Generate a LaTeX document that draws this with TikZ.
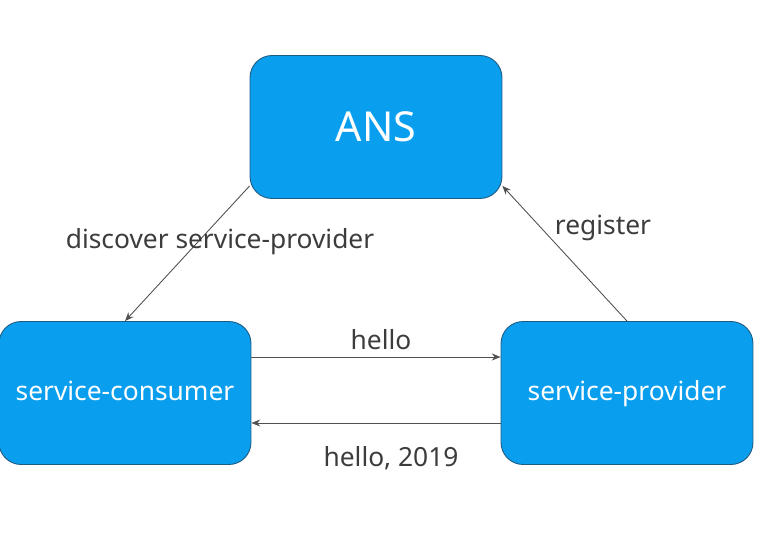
\documentclass[tikz,border=0pt]{standalone}
\usepackage{fontspec}
\setmainfont{Noto Sans}
\usepackage{tikz}
\usetikzlibrary{arrows.meta,calc}
\definecolor{AzulCaja}{RGB}{10,158,238}
\definecolor{BordeCaja}{RGB}{30,90,130}
\definecolor{GrisLinea}{RGB}{80,80,80}
\definecolor{GrisTexto}{RGB}{60,60,60}

\tikzset{
  caja/.style={draw=BordeCaja,line width=0.5pt,fill=AzulCaja,rounded corners=0.44cm,
    minimum width=5.04cm,minimum height=2.86cm,text=white,text height=10pt,text depth=2pt,
    font=\fontsize{15}{18}\selectfont},
  flecha/.style={-{Stealth[length=5pt,width=4pt]},GrisLinea,line width=0.5pt},
  etiqueta/.style={text=GrisTexto,font=\fontsize{15}{18}\selectfont}
}

\begin{document}
\begin{tikzpicture}[x=0.02cm,y=0.02cm]
  \useasboundingbox (0,0) rectangle (776,-543);
  \node[caja,font=\fontsize{23.5}{28}\selectfont,text height=18pt] (ans) at (376,-127) {ANS};
  \node[caja] (consumer) at (125,-393) {service-consumer};
  \node[caja] (provider) at (627,-393) {service-provider};
  \draw[flecha] (ans.205) -- (consumer.north);
  \draw[flecha] (provider.north) -- (ans.335);
  \draw[flecha] ($(consumer.east)+(0,36)$) -- ($(provider.west)+(0,36)$);
  \draw[flecha] ($(provider.west)+(0,-30)$) -- ($(consumer.east)+(0,-30)$);
  \node[etiqueta] (discover) at (220,-242) {discover service-provider};
  \node[etiqueta] (register) at (603,-228) {register};
  \node[etiqueta] (hello) at (381,-340) {hello};
  \node[etiqueta] (reply) at (391,-458) {hello, 2019};
\end{tikzpicture}
\end{document}
